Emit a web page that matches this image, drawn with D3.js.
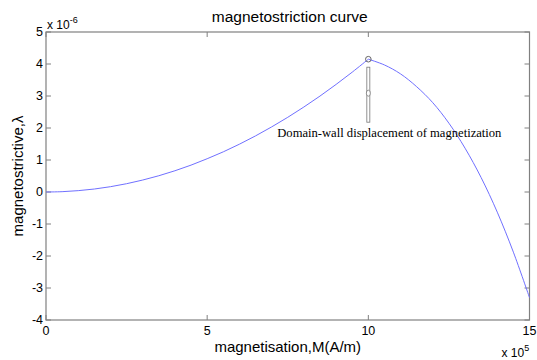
<!DOCTYPE html>
<html><head><meta charset="utf-8">
<script src="https://cdn.jsdelivr.net/npm/d3@7"></script>
<style>body{margin:0;background:#fff}svg{display:block}</style>
</head><body><svg id="c" width="537" height="360"></svg>
<script>
const magnetisation = [0,0.5,1,1.5,2,2.5,3,3.5,4,4.5,5,5.5,6,6.5,7,7.5,8,8.5,9,9.5,10,10.5,11,11.5,12,12.5,13,13.5,14,14.5,15];
const lambda = [0,0.010,0.042,0.093,0.166,0.259,0.374,0.508,0.664,0.840,1.04,1.255,1.494,1.753,2.034,2.334,2.656,2.998,3.362,3.745,4.15,3.97,3.69,3.29,2.79,2.15,1.37,0.45,-0.63,-1.88,-3.30];
const xTicks = [0,5,10,15];
const yTicks = [-4,-3,-2,-1,0,1,2,3,4,5];
const peak = {m:10, l:4.15};
const annotation = "Domain-wall displacement of magnetization";

const svg = d3.select("#c");
const L=46, R=529.5, T=32, B=320;
const x = d3.scaleLinear().domain([0,15]).range([L,R]);
const y = d3.scaleLinear().domain([-4,5]).range([B,T]);
const axisCol = "#808080";
const sans = "Arial, 'Liberation Sans', sans-serif";

svg.append("rect").attr("x",L).attr("y",T).attr("width",R-L).attr("height",B-T)
  .attr("fill","none").attr("stroke",axisCol).attr("stroke-width",1.2);

const tl=5;
xTicks.forEach(t=>{
  svg.append("line").attr("x1",x(t)).attr("x2",x(t)).attr("y1",B).attr("y2",B-tl).attr("stroke",axisCol);
  svg.append("line").attr("x1",x(t)).attr("x2",x(t)).attr("y1",T).attr("y2",T+tl).attr("stroke",axisCol);
  svg.append("text").attr("x",x(t)).attr("y",B+15).attr("text-anchor","middle")
    .attr("font-family",sans).attr("font-size",12.5).attr("fill","#000").text(t);
});
yTicks.forEach(t=>{
  svg.append("line").attr("x1",L).attr("x2",L+tl).attr("y1",y(t)).attr("y2",y(t)).attr("stroke",axisCol);
  svg.append("line").attr("x1",R).attr("x2",R-tl).attr("y1",y(t)).attr("y2",y(t)).attr("stroke",axisCol);
  svg.append("text").attr("x",L-3).attr("y",y(t)+4).attr("text-anchor","end")
    .attr("font-family",sans).attr("font-size",12.5).attr("fill","#000").text(t);
});

const e1 = svg.append("text").attr("x",L+1).attr("y",T-3).attr("font-family",sans).attr("font-size",12);
e1.append("tspan").text("x 10");
e1.append("tspan").attr("dy",-6).attr("font-size",9).text("-6");
const e2 = svg.append("text").attr("x",R-28).attr("y",B+37).attr("font-family",sans).attr("font-size",12);
e2.append("tspan").text("x 10");
e2.append("tspan").attr("dy",-6).attr("font-size",9).text("5");

const pts = magnetisation.map((m,i)=>[m,lambda[i]]);
const pi = magnetisation.indexOf(peak.m);
const line = d3.line().x(d=>x(d[0])).y(d=>y(d[1])).curve(d3.curveCatmullRom.alpha(0.5));
[pts.slice(0,pi+1), pts.slice(pi)].forEach(seg=>{
  svg.append("path").datum(seg).attr("d", line)
    .attr("fill","none").attr("stroke","#7070ff").attr("stroke-width",1);
});

svg.append("circle").attr("cx",x(peak.m)).attr("cy",y(peak.l)).attr("r",2.8)
  .attr("fill","none").attr("stroke","#666").attr("stroke-width",1);

const ax = x(peak.m);
svg.append("rect").attr("x",ax-1.5).attr("y",y(peak.l)+8).attr("width",3).attr("height",55)
  .attr("fill","#fff").attr("stroke","#777").attr("stroke-width",0.8);
svg.append("ellipse").attr("cx",ax).attr("cy",y(peak.l)+34).attr("rx",2).attr("ry",3)
  .attr("fill","#fff").attr("stroke","#777").attr("stroke-width",0.8);

svg.append("text").attr("x",ax+21).attr("y",137).attr("text-anchor","middle")
  .attr("font-family","'Times New Roman','Liberation Serif',serif").attr("font-size",12.6)
  .attr("fill","#000").text(annotation);

svg.append("text").attr("x",(L+R)/2+2).attr("y",22).attr("text-anchor","middle")
  .attr("font-family",sans).attr("font-size",15.5).text("magnetostriction curve");
svg.append("text").attr("x",(L+R)/2).attr("y",352).attr("text-anchor","middle")
  .attr("font-family",sans).attr("font-size",15).text("magnetisation,M(A/m)");
svg.append("text").attr("transform",`translate(23,${(T+B)/2}) rotate(-90)`).attr("text-anchor","middle")
  .attr("font-family",sans).attr("font-size",15).text("magnetostrictive,λ");
</script></body></html>
